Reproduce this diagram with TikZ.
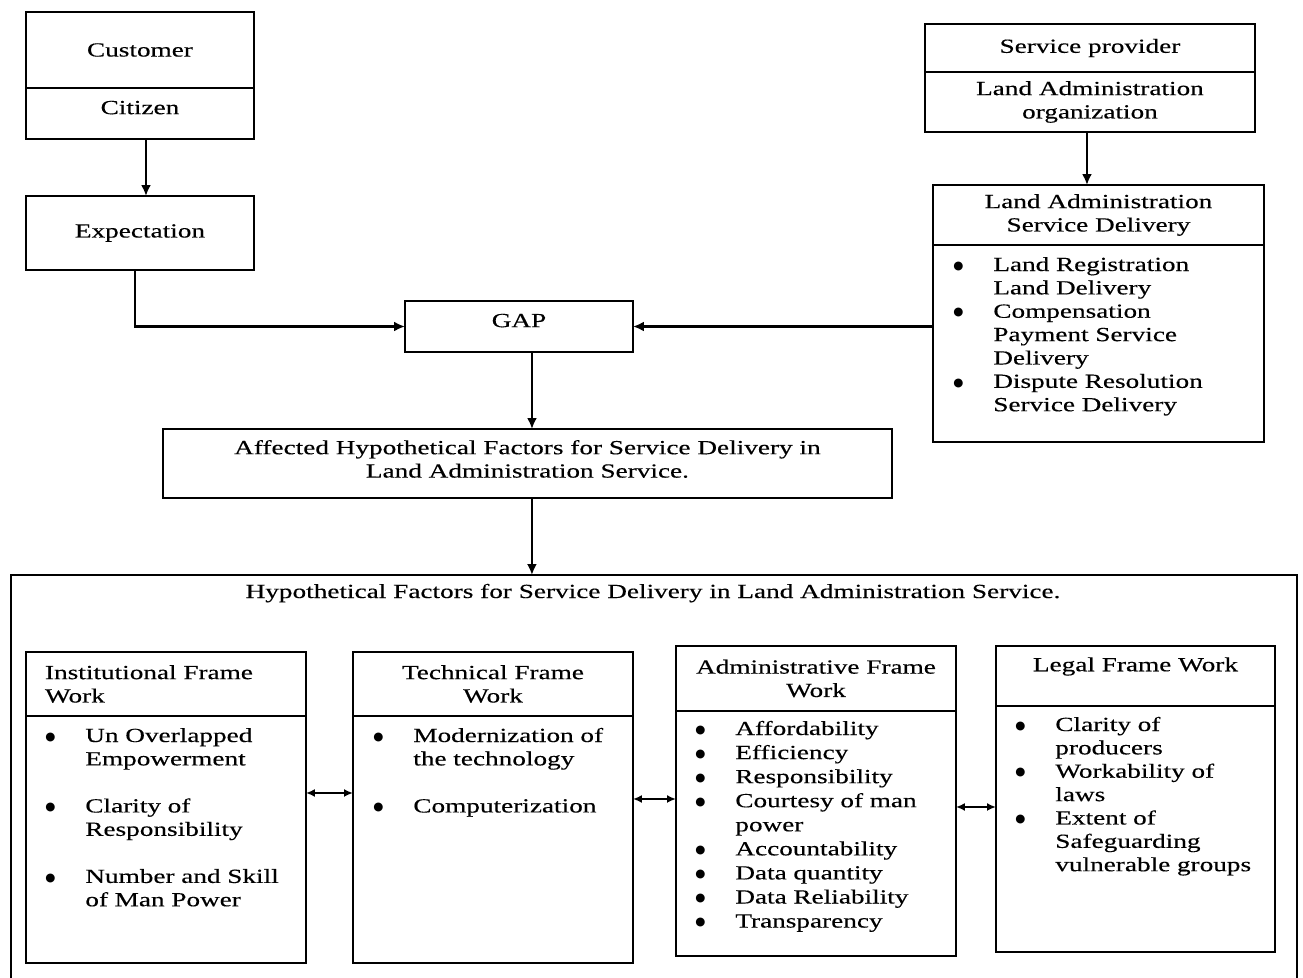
\documentclass[tikz,border=0pt]{standalone}
\usepackage{fontspec}
\setmainfont{Liberation Serif}[FakeStretch=1.36, FakeBold=0.3]
\newfontfamily\dotfont{DejaVu Sans}
\usetikzlibrary{arrows.meta}
\newcommand{\bitem}{\makebox[0.8cm][l]{\raisebox{1pt}{\dotfont\fontsize{6.6}{7}\selectfont ●}}}
\newcommand{\bcont}{\hspace*{0.8cm}}

\begin{document}
\begin{tikzpicture}[x=0.02cm, y=-0.02cm,
    font=\fontsize{11.4}{13.3}\selectfont,
    box/.style={draw, line width=1pt, inner sep=0pt, outer sep=0pt, anchor=north west, align=center},
    list/.style={anchor=base west, inner sep=0pt, text width=6cm, align=left},
    arr/.style={-{Latex[length=2.2mm,width=2mm]}, line width=1.3pt},
    darr/.style={{Latex[length=1.8mm,width=1.6mm]}-{Latex[length=1.8mm,width=1.6mm]}, line width=1pt}]
    \useasboundingbox (0,0) rectangle (1303,978);

    % Customer side
    \node[box, minimum width=4.56cm, minimum height=1.52cm] (cust) at (26,12) {Customer};
    \node[box, minimum width=4.56cm, minimum height=1.02cm, text depth=0.24cm] (citz) at (26,88) {Citizen};
    \node[box, minimum width=4.56cm, minimum height=1.48cm] (expc) at (26,196) {Expectation};

    % Service provider side
    \node[box, minimum width=6.6cm, minimum height=0.96cm] (prov) at (925,24) {Service provider};
    \node[box, minimum width=6.6cm, minimum height=1.2cm] (laorg) at (925,72) {Land Administration\\organization};
    \node[box, minimum width=6.62cm, minimum height=1.2cm] (lasdh) at (933,185) {Land Administration\\Service Delivery};
    \node[box, minimum width=6.62cm, minimum height=3.94cm] (lasdb) at (933,245) {};
    \node[list] (lasdl) at (953,271) {\bitem Land Registration\\ \bcont Land Delivery\\ \bitem Compensation\\ \bcont Payment Service\\ \bcont Delivery\\ \bitem Dispute Resolution\\ \bcont Service Delivery};

    % Gap and affected factors
    \node[box, minimum width=4.56cm, minimum height=1.02cm, text depth=0.24cm] (gap) at (405,301) {GAP};
    \node[box, minimum width=14.58cm, minimum height=1.38cm] (aff) at (163,429) {Affected Hypothetical Factors for Service Delivery in\\Land Administration Service.\\[-8pt]\mbox{}};

    % Hypothetical factors frame
    \node[box, minimum width=25.72cm, minimum height=8.2cm] (frame) at (11,575) {};
    \node[anchor=base] (ttl) at (653,598) {Hypothetical Factors for Service Delivery in Land Administration Service.};

    % Institutional
    \node[box, minimum width=5.6cm, minimum height=1.28cm, text width=4.84cm, align=left, inner xsep=0.38cm] (insth) at (26,652) {Institutional Frame\\Work};
    \node[box, minimum width=5.6cm, minimum height=4.94cm] (instb) at (26,716) {};
    \node[list] (instl) at (45,742) {\bitem Un Overlapped\\ \bcont Empowerment\\[13.5pt] \bitem Clarity of\\ \bcont Responsibility\\[13.5pt] \bitem Number and Skill\\ \bcont of Man Power};

    % Technical
    \node[box, minimum width=5.6cm, minimum height=1.28cm] (techh) at (353,652) {Technical Frame\\Work};
    \node[box, minimum width=5.6cm, minimum height=4.94cm] (techb) at (353,716) {};
    \node[list] (techl) at (373,742) {\bitem Modernization of\\ \bcont the technology\\[13.5pt] \bitem Computerization};

    % Administrative
    \node[box, minimum width=5.6cm, minimum height=1.3cm] (admh) at (676,646) {Administrative Frame\\Work};
    \node[box, minimum width=5.6cm, minimum height=4.9cm] (admb) at (676,711) {};
    \node[list, font=\fontsize{11.4}{13.7}\selectfont] (adml) at (695,735) {\bitem Affordability\\ \bitem Efficiency\\ \bitem Responsibility\\ \bitem Courtesy of man\\ \bcont power\\ \bitem Accountability\\ \bitem Data quantity\\ \bitem Data Reliability\\ \bitem Transparency};

    % Legal
    \node[box, minimum width=5.58cm, minimum height=1.2cm] (legh) at (996,646) {Legal Frame Work\\\mbox{}};
    \node[box, minimum width=5.58cm, minimum height=4.92cm] (legb) at (996,706) {};
    \node[list] (legl) at (1015,731) {\bitem Clarity of\\ \bcont producers\\ \bitem Workability of\\ \bcont laws\\ \bitem Extent of\\ \bcont Safeguarding\\ \bcont vulnerable groups};

    % Connectors
    \draw[arr] ([xshift=0.12cm]citz.south) -- ([xshift=0.12cm]expc.north);
    \draw[arr] ([xshift=-0.1cm]expc.south) |- (gap.west);
    \draw[arr] (lasdb.west |- gap.east) -- (gap.east);
    \draw[arr] ([xshift=-0.06cm]laorg.south) -- ([xshift=-0.06cm]laorg.south |- lasdh.north);
    \draw[arr] ([xshift=0.26cm]gap.south) -- ([xshift=0.26cm]gap.south |- aff.north);
    \draw[arr] ([xshift=0.09cm]aff.south) -- ([xshift=0.09cm]aff.south |- frame.north);
    \draw[darr] ([yshift=0.93cm]instb.east) -- ([yshift=0.93cm]techb.west);
    \draw[darr] ([yshift=0.81cm]techb.east) -- ([yshift=0.81cm]techb.east -| admb.west);
    \draw[darr] ([yshift=0.53cm]admb.east) -- ([yshift=0.53cm]admb.east -| legb.west);
\end{tikzpicture}
\end{document}
